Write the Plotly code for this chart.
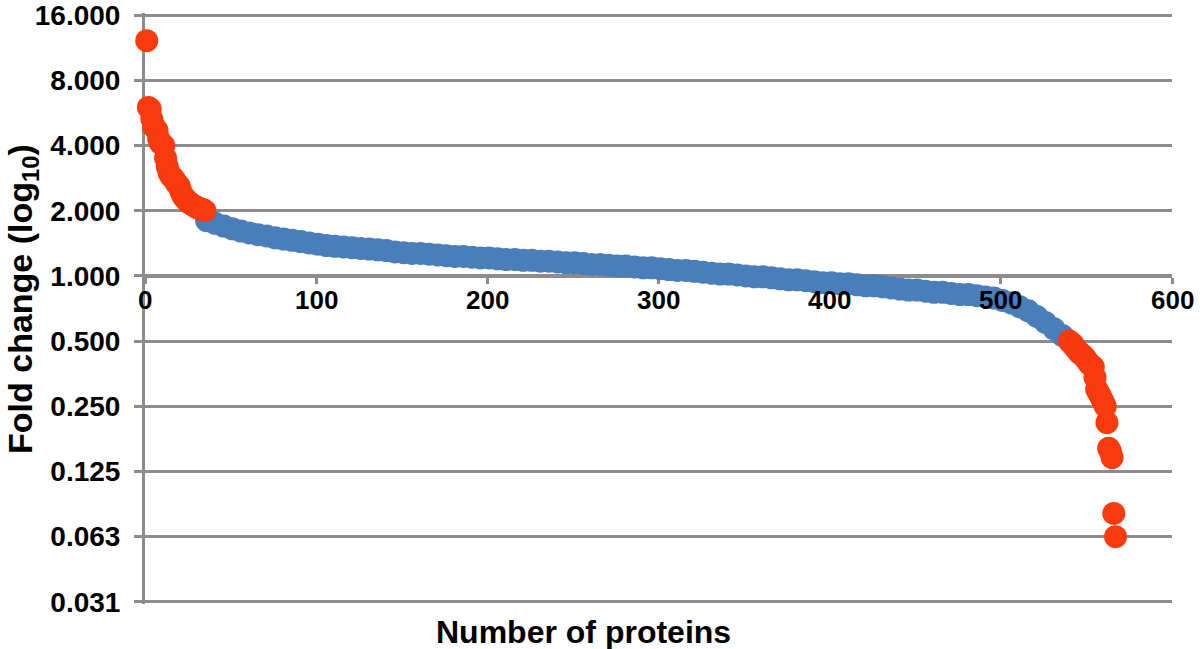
import math
import plotly.graph_objects as go

# ---------------- data ----------------
red_top_rank = list(range(1, 36))
red_top_fold = [12.2, 6.0, 5.9, 5.3, 4.9, 4.8, 4.7, 4.3, 4.1, 4.05,
                4.0, 3.5, 3.2, 3.0, 2.9, 2.85, 2.8, 2.7, 2.65, 2.6,
                2.45, 2.35, 2.3, 2.25, 2.2, 2.18, 2.15, 2.12, 2.1, 2.08,
                2.06, 2.04, 2.03, 2.02, 2.0]

blue_rank = list(range(36, 537, 5))
blue_fold = [1.80, 1.75, 1.70, 1.65, 1.61, 1.58, 1.55, 1.53, 1.50, 1.48,
             1.46, 1.44, 1.42, 1.40, 1.38, 1.37, 1.36, 1.35, 1.34, 1.33,
             1.32, 1.31, 1.29, 1.28, 1.27, 1.27, 1.26, 1.25, 1.24, 1.23,
             1.23, 1.22, 1.21, 1.21, 1.20, 1.19, 1.19, 1.18, 1.18, 1.17,
             1.17, 1.16, 1.15, 1.15, 1.14, 1.13, 1.13, 1.12, 1.11, 1.11,
             1.10, 1.09, 1.09, 1.08, 1.07, 1.06, 1.06, 1.05, 1.04, 1.03,
             1.02, 1.02, 1.01, 1.00, 0.99, 0.99, 0.98, 0.97, 0.96, 0.96,
             0.95, 0.94, 0.93, 0.93, 0.92, 0.92, 0.91, 0.90, 0.90, 0.89,
             0.88, 0.87, 0.86, 0.86, 0.85, 0.84, 0.84, 0.83, 0.82, 0.82,
             0.81, 0.80, 0.79, 0.77, 0.75, 0.72, 0.69, 0.65, 0.61, 0.57,
             0.53]

red_bot_rank = list(range(540, 568))
red_bot_fold = [0.50, 0.49, 0.485, 0.47, 0.46, 0.45, 0.44, 0.435, 0.43, 0.42,
                0.41, 0.40, 0.39, 0.385, 0.38, 0.34, 0.30, 0.29, 0.28, 0.27,
                0.26, 0.25, 0.21, 0.16, 0.155, 0.145, 0.08, 0.0625]

y_tickvals = [0.03125, 0.0625, 0.125, 0.25, 0.5, 1, 2, 4, 8, 16]
y_ticktext = ["0.031", "0.063", "0.125", "0.250", "0.500", "1.000",
              "2.000", "4.000", "8.000", "16.000"]
x_tickvals = [0, 100, 200, 300, 400, 500, 600]
x_cross = 1  # x-axis crosses the y-axis at fold change 1

# ---------------- styling ----------------
BLUE = "#4a7ebb"
RED = "#f93a0d"
GRID = "#8c8c8c"
FONT = "Liberation Sans, Arial, sans-serif"
MS = 23

pad = 0.01
y_lo = math.log10(y_tickvals[0]) - pad
y_hi = math.log10(y_tickvals[-1]) + pad
x_axis_pos = (math.log10(x_cross) - y_lo) / (y_hi - y_lo)

fig = go.Figure()
fig.add_trace(go.Scatter(x=blue_rank, y=blue_fold, mode="markers",
                         marker=dict(color=BLUE, size=MS, line=dict(width=0)),
                         cliponaxis=False, showlegend=False))
fig.add_trace(go.Scatter(x=red_top_rank + red_bot_rank,
                         y=red_top_fold + red_bot_fold, mode="markers",
                         marker=dict(color=RED, size=MS, line=dict(width=0)),
                         cliponaxis=False, showlegend=False))

# x tick labels drawn above the markers (as in the reference)
x_label_annots = [
    dict(text=str(v), x=v, y=math.log10(x_cross), xref="x", yref="y",
         xanchor="center", yanchor="top", yshift=-7, showarrow=False,
         font=dict(family=FONT, size=26, weight="bold"))
    for v in x_tickvals
]

fig.update_layout(
    width=1200, height=649,
    margin=dict(l=145, r=28, t=13, b=45),
    paper_bgcolor="white", plot_bgcolor="white",
    font=dict(family=FONT, color="black"),
    xaxis=dict(range=[0, 600], tickvals=x_tickvals,
               anchor="free", position=x_axis_pos, automargin=False,
               showline=True, linecolor=GRID, linewidth=3,
               ticks="outside", ticklen=6, tickwidth=3, tickcolor=GRID,
               showgrid=False, zeroline=False, layer="below traces",
               showticklabels=False),
    yaxis=dict(type="log", range=[y_lo, y_hi], automargin=False,
               tickvals=y_tickvals, ticktext=y_ticktext,
               showline=True, linecolor=GRID, linewidth=3,
               ticks="outside", ticklen=8, tickwidth=3, tickcolor=GRID,
               showgrid=True, gridcolor=GRID, gridwidth=3,
               zeroline=False, layer="below traces",
               ticklabelstandoff=8, ticklabeloverflow="allow",
               tickfont=dict(family=FONT, size=28, weight="bold")),
    annotations=x_label_annots + [
        dict(text="Number of proteins", xref="paper", yref="paper",
             x=(583 - 145) / 1027, y=(602 - 630) / 589,
             xanchor="center", yanchor="middle",
             showarrow=False, font=dict(family=FONT, size=32, weight="bold")),
        dict(text="Fold change (log<sub>10</sub>)", xref="paper", yref="paper",
             x=(23 - 145) / 1027, y=(602 - 298) / 589,
             xanchor="center", yanchor="middle",
             textangle=-90, showarrow=False,
             font=dict(family=FONT, size=34, weight="bold")),
    ],
)

fig.write_html("out.html", config={"displayModeBar": False},
               post_script="document.body.style.margin='0';")
